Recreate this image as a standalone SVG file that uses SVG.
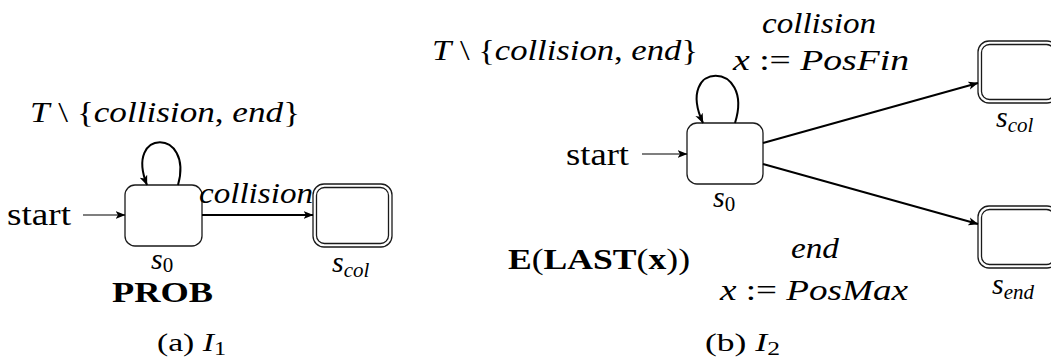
<svg xmlns="http://www.w3.org/2000/svg" width="1051" height="360" viewBox="0 0 1051 360">
<style>
text{font-family:"Liberation Serif","Times New Roman",serif;font-size:30px;fill:#000}
.i{font-style:italic}
.r{font-style:normal}
.b{font-weight:bold}
.big{font-size:32px}
.prob{font-size:29px;font-weight:bold}
.cap{font-size:25px}
.sub{font-size:21px}
.csub{font-size:18px}
.node{fill:#fff;stroke:#1a1a1a;stroke-width:1.3}
.edge{fill:none;stroke:#000;stroke-width:2}
.thin{fill:none;stroke:#000;stroke-width:1.2}
</style>
<defs>
<marker id="arr" viewBox="0 0 10 10" refX="9.5" refY="5" markerWidth="10" markerHeight="10" markerUnits="userSpaceOnUse" orient="auto">
<path d="M0,1 L10,5 L0,9 L2.5,5 z" fill="#000"/>
</marker>
</defs>
<rect width="1051" height="360" fill="#fff"/>

<!-- (a) I1 -->
<g id="a-s0">
<rect class="node" x="125" y="185" width="77" height="61" rx="10"/>
<text x="151" y="269" class="i">s<tspan class="r sub" dy="3">0</tspan></text>
</g>
<g id="a-scol">
<rect class="node" x="313" y="184" width="79" height="63" rx="11"/>
<rect class="node" x="316.5" y="187.5" width="72" height="56" rx="8"/>
<text x="332" y="272" class="i">s<tspan class="sub" dy="5">col</tspan></text>
</g>
<g id="a-connectors">
<line class="thin" x1="83" y1="215" x2="125" y2="215" marker-end="url(#arr)"/>
<path class="edge" d="M178,185 C194,128 124,128 147,185" marker-end="url(#arr)"/>
<line class="edge" x1="202" y1="215" x2="313" y2="215" marker-end="url(#arr)"/>
</g>
<g id="a-labels">
<text x="7" y="225" class="big" textLength="64" lengthAdjust="spacingAndGlyphs">start</text>
<text x="30" y="122" textLength="270" lengthAdjust="spacingAndGlyphs"><tspan class="i">T</tspan> \ {<tspan class="i">collision</tspan>, <tspan class="i">end</tspan>}</text>
<text x="199" y="203" class="i" textLength="114" lengthAdjust="spacingAndGlyphs">collision</text>
<text x="112" y="302" class="prob" textLength="101" lengthAdjust="spacingAndGlyphs">PROB</text>
<text x="157" y="351" class="cap" textLength="69" lengthAdjust="spacingAndGlyphs">(a) <tspan class="i">I</tspan><tspan class="csub" dy="4">1</tspan></text>
</g>

<!-- (b) I2 -->
<g id="b-s0">
<rect class="node" x="687" y="123" width="76" height="61" rx="10"/>
<text x="713" y="207" class="i">s<tspan class="r sub" dy="4">0</tspan></text>
</g>
<g id="b-scol">
<rect class="node" x="978" y="41" width="80" height="62" rx="11"/>
<rect class="node" x="981.5" y="44.5" width="73" height="55" rx="8"/>
<text x="996" y="127" class="i">s<tspan class="sub" dy="5">col</tspan></text>
</g>
<g id="b-send">
<rect class="node" x="978" y="206" width="80" height="62" rx="11"/>
<rect class="node" x="981.5" y="209.5" width="73" height="55" rx="8"/>
<text x="992" y="294" class="i">s<tspan class="sub" dy="5">end</tspan></text>
</g>
<g id="b-connectors">
<line class="thin" x1="642" y1="154" x2="687" y2="154" marker-end="url(#arr)"/>
<path class="edge" d="M735,123 C755,60 674,60 703,123" marker-end="url(#arr)"/>
<line class="edge" x1="763" y1="143" x2="978" y2="83" marker-end="url(#arr)"/>
<line class="edge" x1="763" y1="164" x2="978" y2="224" marker-end="url(#arr)"/>
</g>
<g id="b-labels">
<text x="566" y="165" class="big" textLength="63" lengthAdjust="spacingAndGlyphs">start</text>
<text x="432" y="60" textLength="266" lengthAdjust="spacingAndGlyphs"><tspan class="i">T</tspan> \ {<tspan class="i">collision</tspan>, <tspan class="i">end</tspan>}</text>
<text x="762" y="33" class="i" textLength="114" lengthAdjust="spacingAndGlyphs">collision</text>
<text x="733" y="70" textLength="176" lengthAdjust="spacingAndGlyphs"><tspan class="i">x</tspan> := <tspan class="i">PosFin</tspan></text>
<text x="791" y="258" class="i" textLength="48" lengthAdjust="spacingAndGlyphs">end</text>
<text x="720" y="300" textLength="188" lengthAdjust="spacingAndGlyphs"><tspan class="i">x</tspan> := <tspan class="i">PosMax</tspan></text>
<text x="508" y="269" textLength="182" lengthAdjust="spacingAndGlyphs"><tspan class="b">E</tspan>(<tspan class="b">LAST</tspan>(<tspan class="b">x</tspan>))</text>
<text x="705" y="351" class="cap" textLength="75" lengthAdjust="spacingAndGlyphs">(b) <tspan class="i">I</tspan><tspan class="csub" dy="4">2</tspan></text>
</g>
</svg>
